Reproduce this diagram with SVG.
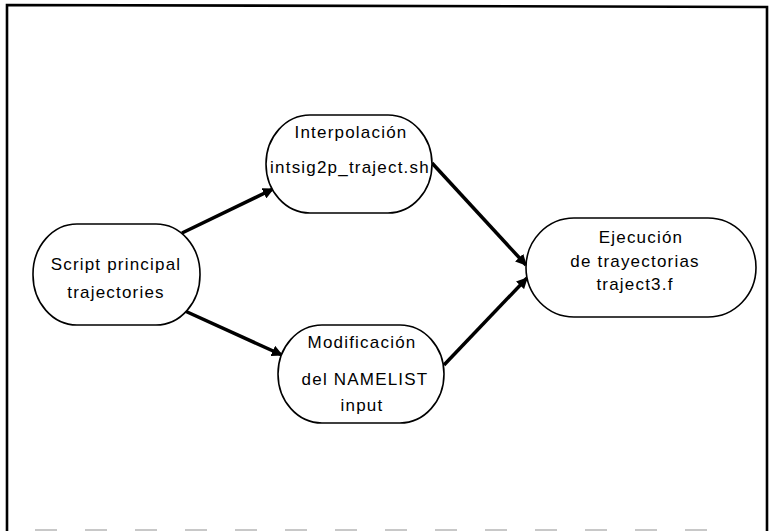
<svg xmlns="http://www.w3.org/2000/svg" width="770" height="531" viewBox="0 0 770 531">
<style>
.node rect{fill:#fff;stroke:#000;stroke-width:1.6}
.node text{font-family:"Liberation Sans",Arial,sans-serif;font-size:17px;letter-spacing:1.2px;fill:#000;text-anchor:middle}
.edge{stroke:#000;stroke-width:3.5;fill:none;marker-end:url(#ah)}
</style>
<defs>
<marker id="ah" viewBox="0 0 10 10" refX="9" refY="5" markerWidth="3.2" markerHeight="3.2" orient="auto" markerUnits="strokeWidth">
<path d="M0,0 L10,5 L0,10 Z" fill="#000"/>
</marker>
</defs>
<rect width="770" height="531" fill="#fff"/>
<g id="frame">
<path d="M7,531 L7,5 L767,7 L767,531" fill="none" stroke="#000" stroke-width="2.6"/>
<line x1="35" y1="530" x2="720" y2="530" stroke="#c8c8c8" stroke-width="2" stroke-dasharray="22 28"/>
</g>
<g id="connectors">
<line class="edge" x1="182" y1="233" x2="273" y2="189"/>
<line class="edge" x1="185" y1="311" x2="282" y2="355"/>
<line class="edge" x1="432" y1="163" x2="526" y2="265"/>
<line class="edge" x1="444" y1="365" x2="527" y2="278"/>
</g>
<g id="script" class="node">
<rect x="33" y="224" width="167" height="101" rx="44" ry="50"/>
<text x="116" y="270">Script principal</text>
<text x="116" y="298">trajectories</text>
</g>
<g id="interpolacion" class="node">
<rect x="266" y="115" width="166" height="98" rx="44" ry="49"/>
<text x="351" y="138">Interpolación</text>
<text x="350" y="173">intsig2p_traject.sh</text>
</g>
<g id="modificacion" class="node">
<rect x="278" y="325" width="166" height="98" rx="44" ry="49"/>
<text x="362" y="348">Modificación</text>
<text x="365" y="385">del NAMELIST</text>
<text x="362" y="411">input</text>
</g>
<g id="ejecucion" class="node">
<rect x="526" y="218" width="230" height="99" rx="48" ry="49.5"/>
<text x="641" y="243">Ejecución</text>
<text x="635" y="267">de trayectorias</text>
<text x="635" y="290">traject3.f</text>
</g>
</svg>
